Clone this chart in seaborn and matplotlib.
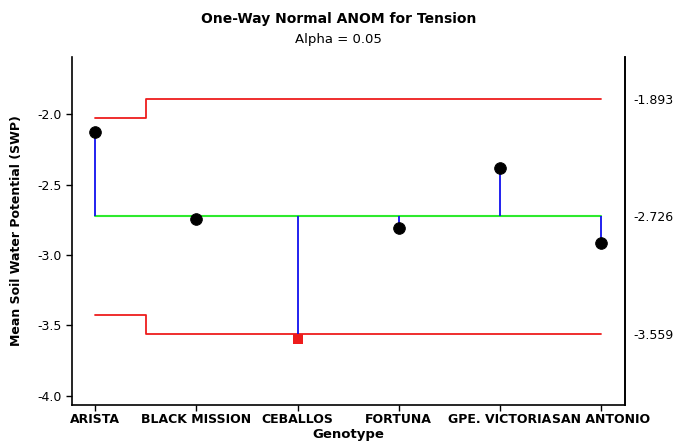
import matplotlib
matplotlib.use("Agg")
import matplotlib.pyplot as plt
import seaborn as sns
import pandas as pd
import numpy as np

genotypes = ["ARISTA", "BLACK MISSION", "CEBALLOS", "FORTUNA", "GPE. VICTORIA", "SAN ANTONIO"]
means = [-2.128, -2.742, -3.595, -2.808, -2.385, -2.912]
udl = [-2.026, -1.893, -1.893, -1.893, -1.893, -1.893]
ldl = [-3.426, -3.559, -3.559, -3.559, -3.559, -3.559]
center = -2.726
right_ticks = [-1.893, -2.726, -3.559]
left_ticks = [-2.0, -2.5, -3.0, -3.5, -4.0]

sns.set_style("white")
plt.rcParams['font.family'] = ['DejaVu Sans']
plt.rcParams['text.color'] = 'black'
plt.rcParams['axes.labelcolor'] = 'black'
plt.rcParams['xtick.color'] = 'black'
plt.rcParams['ytick.color'] = 'black'

df = pd.DataFrame({"pos": np.arange(len(genotypes)), "genotype": genotypes,
                   "mean": means, "udl": udl, "ldl": ldl})
df["out"] = (df["mean"] > df["udl"]) | (df["mean"] < df["ldl"])

fig = plt.figure(figsize=(6.77, 4.46), dpi=100)
ax = fig.add_axes([0.1064, 0.092, 0.817, 0.780])

# center line
sns.lineplot(x=[0, len(genotypes) - 1], y=[center, center], ax=ax, color="#2eea2e", lw=1.5)
# decision limits
sns.lineplot(data=df, x="pos", y="udl", ax=ax, color="#ee1c1c", lw=1.3, drawstyle="steps-mid")
sns.lineplot(data=df, x="pos", y="ldl", ax=ax, color="#ee1c1c", lw=1.3, drawstyle="steps-mid")
# stems
ax.vlines(df["pos"], center, df["mean"], color="#1010ee", lw=1.3, zorder=3)
# points
sns.scatterplot(data=df[~df["out"]], x="pos", y="mean", ax=ax, color="black", s=70,
                marker="o", edgecolor="black", zorder=5)
sns.scatterplot(data=df[df["out"]], x="pos", y="mean", ax=ax, color="#ee1c1c", s=55,
                marker="s", edgecolor="#ee1c1c", linewidth=0, zorder=5)

ax.set_xlim(-0.23, 5.24)
ax.set_ylim(-4.064, -1.596)
ax.set_xticks(df["pos"])
ax.set_xticklabels(genotypes, fontsize=9, fontweight="bold")
ax.set_yticks(left_ticks)
ax.set_yticklabels([f"{v:.1f}" for v in left_ticks], fontsize=9)
ax.tick_params(axis="both", direction="out", length=4, width=1, color="black", left=True, bottom=True)
ax.tick_params(axis="x", pad=2)
ax.set_xlabel("Genotype", fontsize=9.5, fontweight="bold", labelpad=1)
ax.set_ylabel("Mean Soil Water Potential (SWP)", fontsize=9, fontweight="bold", labelpad=10)
ax.spines["top"].set_visible(False)
for s in ["left", "bottom", "right"]:
    ax.spines[s].set_color("black")
    ax.spines[s].set_linewidth(1.2)

ax2 = ax.twinx()
ax2.set_ylim(ax.get_ylim())
ax2.set_yticks(right_ticks)
ax2.set_yticklabels([f"{v:.3f}" for v in right_ticks], fontsize=9)
ax2.tick_params(axis="y", length=0, pad=6)
ax2.spines["top"].set_visible(False)
ax2.spines["left"].set_visible(False)
ax2.spines["bottom"].set_visible(False)
ax2.spines["right"].set_color("black")
ax2.spines["right"].set_linewidth(1.2)

fig.text(0.5, 0.957, "One-Way Normal ANOM for Tension", ha="center", va="center",
         fontsize=10, fontweight="bold")
fig.text(0.5, 0.912, "Alpha = 0.05", ha="center", va="center", fontsize=9.5)

fig.savefig("out.png", dpi=100)
